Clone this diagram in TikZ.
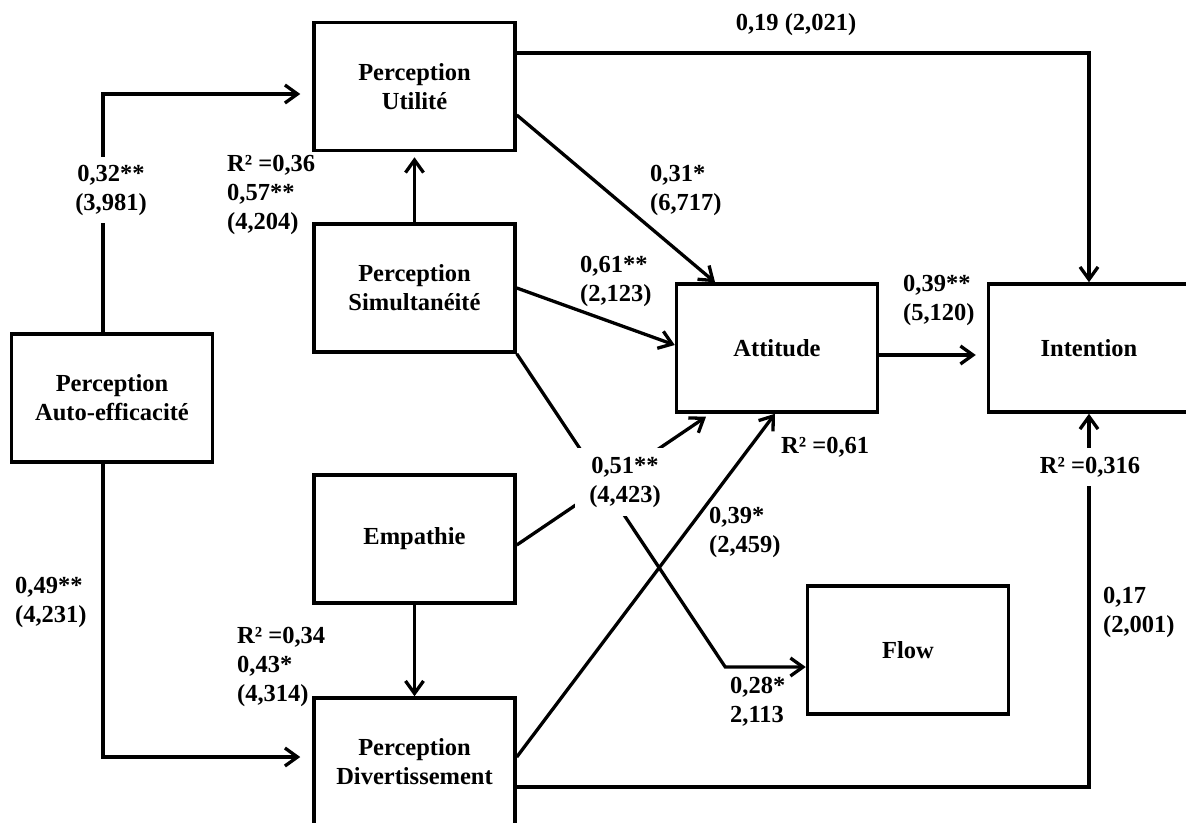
\documentclass[tikz,border=0pt]{standalone}
\usepackage{fontspec}
\setmainfont{Liberation Serif}
\usetikzlibrary{arrows.meta,calc}
\begin{document}
\begin{tikzpicture}[x=1pt,y=-1pt,
  box/.style={draw, line width=3.5pt, minimum width=201pt, minimum height=128pt, inner sep=0pt, align=center, font=\fontsize{24.5}{29}\selectfont\bfseries},
  lbl/.style={inner sep=0pt, align=left, font=\fontsize{24.5}{29}\selectfont\bfseries},
  wl/.style={lbl, fill=white, align=center, inner xsep=14pt, inner ysep=8pt},
  conn/.style={line width=3.3pt},
  arr/.style={conn, -{Straight Barb[length=12.5pt,width=18pt]}},
]
\useasboundingbox (0,0) rectangle (1186,822);
\clip (0,0) rectangle (1186,822);

% boxes
\node[box] (U) at (414.5,86.5) {Perception\\Utilité};
\node[box] (S) at (414.5,288) {Perception\\Simultanéité};
\node[box] (A) at (112,398) {Perception\\Auto-efficacité};
\node[box] (E) at (414.5,539) {Empathie};
\node[box] (D) at (414.5,762) {Perception\\Divertissement};
\node[box] (T) at (777,348) {Attitude};
\node[box] (I) at (1089,348) {Intention};
\node[box] (F) at (908,650) {Flow};

% connectors
\draw[arr] ($(A.north)+(-9,0)$) |- ($(U.west)+(-12,7.5)$);
\draw[arr] ($(A.south)+(-9,0)$) |- ($(D.west)+(-12,-5)$);
\draw[arr, shorten >=5pt] (S.north) -- (U.south);
\draw[arr] (E.south) -- (D.north);
\draw[arr] ($(U.east)+(0,28.5)$) -- ($(T.north)+(-62,0)$);
\draw[arr] (S.east) -- ($(T.west)+(0,-3)$);
\draw[arr] (S.south east) -- ($(F.west)+(-80.5,17)$) -- ($(F.west)+(0,17)$);
\draw[arr] ($(E.east)+(0,6)$) -- ($(T.south)+(-71,3)$);
\draw[arr] ($(D.east)+(0,-5)$) -- ($(T.south)+(-2,0)$);
\draw[arr] ($(D.east)+(0,25)$) -| (I.south);
\draw[arr] ($(U.east)+(0,-33.5)$) -| (I.north);
\draw[arr] ($(T.east)+(0,7)$) -- ($(I.west)+(-11,7)$);

% labels
\node[lbl] (l019) at (796,25) {0,19 (2,021)};
\node[wl] (l032) at (111,190) {0,32**\\(3,981)};
\node[lbl, anchor=west] (l057) at (227,195) {R² =0,36\\0,57**\\(4,204)};
\node[lbl, anchor=west] (l031) at (650,190) {0,31*\\(6,717)};
\node[lbl, anchor=west] (l061) at (580,281) {0,61**\\(2,123)};
\node[lbl, anchor=west] (l039a) at (903,300) {0,39**\\(5,120)};
\node[lbl, anchor=west] (l049) at (15,602) {0,49**\\(4,231)};
\node[lbl, anchor=west] (l043) at (237,667) {R² =0,34\\0,43*\\(4,314)};
\node[wl, inner ysep=9pt] (l051) at (625,482) {0,51**\\(4,423)};
\node[lbl, anchor=west] (r061) at (781,447) {R² =0,61};
\node[lbl, anchor=west] (l039b) at (709,532) {0,39*\\(2,459)};
\node[lbl, anchor=west] (l028) at (730,702) {0,28*\\2,113};
\node[wl, inner xsep=20pt, inner ysep=9pt] (r0316) at (1090,467) {R² =0,316};
\node[lbl, anchor=west] (l017) at (1103,612) {0,17\\(2,001)};
\end{tikzpicture}
\end{document}
